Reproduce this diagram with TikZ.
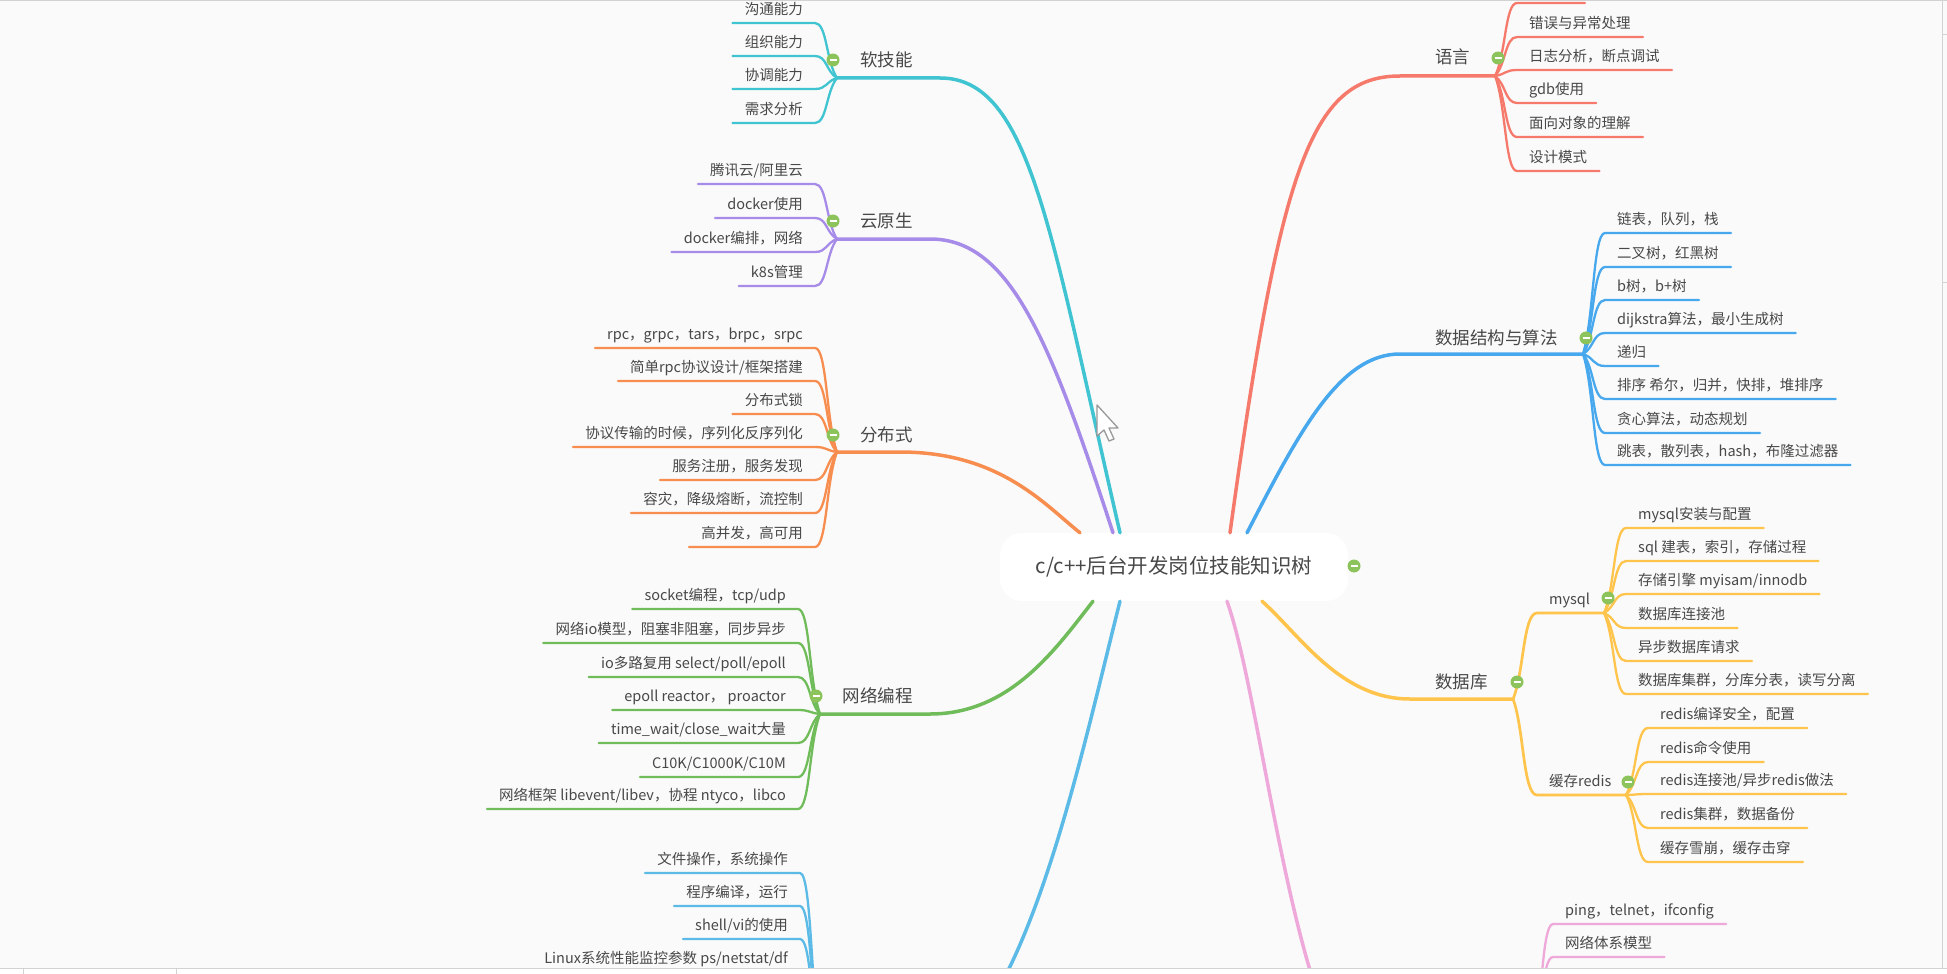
\documentclass[tikz,border=0pt]{standalone}
\usepackage{fontspec}
\newfontfamily\cjk{Noto Sans CJK SC}
\usetikzlibrary{calc}

\definecolor{bgGray}{RGB}{250,250,250}
\definecolor{txtGray}{RGB}{72,72,72}
\definecolor{softCyan}{RGB}{64,196,209}
\definecolor{cloudPurple}{RGB}{167,139,232}
\definecolor{distOrange}{RGB}{247,141,79}
\definecolor{netGreen}{RGB}{112,188,90}
\definecolor{linuxBlue}{RGB}{92,186,230}
\definecolor{langRed}{RGB}{246,122,108}
\definecolor{algoBlue}{RGB}{72,168,238}
\definecolor{dbYellow}{RGB}{255,196,75}
\definecolor{netPink}{RGB}{238,168,218}
\definecolor{toggleGreen}{RGB}{140,195,90}

\tikzset{
  leaf/.style={font=\cjk\fontsize{14.5pt}{17pt}\selectfont, text=txtGray, inner xsep=12pt, inner ysep=6.5pt, text height=12.5pt, text depth=2pt},
  leafL/.style={leaf, anchor=south east},
  leafR/.style={leaf, anchor=south west},
  topic/.style={font=\cjk\fontsize{17.5pt}{20pt}\selectfont, text=txtGray, inner sep=0pt},
  rootBox/.style={rectangle, fill=white, rounded corners=22pt, minimum width=348pt, minimum height=68pt, font=\cjk\fontsize{20.5pt}{24pt}\selectfont, text=txtGray},
  branch/.style={line width=3.5pt, line cap=round},
  twig/.style={line width=2.3pt, line cap=round, line join=round},
  twigL/.style={to path={.. controls ($(\tikztostart)!0.3!(\tikztostart |- \tikztotarget)+(-11,0)$) and ($(\tikztostart |- \tikztotarget)+(-10,0)$) .. (\tikztotarget)}},
  twigR/.style={to path={.. controls ($(\tikztostart)!0.3!(\tikztostart |- \tikztotarget)+(11,0)$) and ($(\tikztostart |- \tikztotarget)+(10,0)$) .. (\tikztotarget)}},
  toggle/.style={circle, fill=toggleGreen, minimum size=13pt, inner sep=0pt,
    path picture={\draw[white, line width=1.3pt] ([xshift=-3.5pt]path picture bounding box.center) -- ([xshift=3.5pt]path picture bounding box.center);}},
  uiLine/.style={draw=gray!35, line width=1pt}
}

\begin{document}
\begin{tikzpicture}[x=1pt, y=-1pt]
	\useasboundingbox (0,0) rectangle (1947,974);
	\fill[bgGray] (0,0) rectangle (1947,974);
	\clip (0,0) rectangle (1947,974);

	\node[rootBox](root) at (1174,567){c/c++后台开发岗位技能知识树};

	\coordinate (softHub) at (837,78);
	\coordinate (cloudHub) at (837,239);
	\coordinate (distHub) at (837,452);
	\coordinate (netHub) at (820,714);
	\coordinate (linuxHub) at (822,1060);
	\coordinate (langHub) at (1495,76);
	\coordinate (algoHub) at (1583,354);
	\coordinate (dbHub) at (1513,699);
	\coordinate (mysqlHub) at (1604,613);
	\coordinate (redisHub) at (1626,795);
	\coordinate (pinkHub) at (1531,1060);

	% main branches out of the root
	\draw[branch, softCyan] ([xshift=-54pt]root.north) .. controls (1050,230) and (1030,78) .. (940,78) -- (softHub);
	\draw[branch, cloudPurple] ([xshift=-61pt]root.north) .. controls (1050,340) and (1010,239) .. (930,239) -- (cloudHub);
	\draw[branch, distOrange] ([xshift=-94pt]root.north) .. controls (1045,505) and (1000,452) .. (900,452) -- (distHub);
	\draw[branch, netGreen] ([xshift=-81pt]root.south) .. controls (1055,650) and (1010,714) .. (930,714) -- (netHub);
	\draw[branch, linuxBlue] ([xshift=-54pt]root.south) .. controls (1080,760) and (1030,1000) .. (940,1060) -- (linuxHub);
	\draw[branch, langRed] ([xshift=56pt]root.north) .. controls (1280,170) and (1310,76) .. (1400,76) -- (langHub);
	\draw[branch, algoBlue] ([xshift=73pt]root.north) .. controls (1300,430) and (1340,354) .. (1400,354) -- (algoHub);
	\draw[branch, dbYellow] ([xshift=88pt]root.south) .. controls (1300,635) and (1340,699) .. (1410,699) -- (dbHub);
	\draw[branch, netPink] ([xshift=53pt]root.south) .. controls (1262,700) and (1290,1000) .. (1360,1080) -- (pinkHub);

	% topic labels
	\node[topic, anchor=east](softLabel) at (913,60){软技能};
	\node[topic, anchor=east](cloudLabel) at (913,221){云原生};
	\node[topic, anchor=east](distLabel) at (913,435){分布式};
	\node[topic, anchor=east](netLabel) at (913,696){网络编程};
	\node[topic, anchor=west](langLabel) at (1435,57){语言};
	\node[topic, anchor=west](algoLabel) at (1435,338){数据结构与算法};
	\node[topic, anchor=west](dbLabel) at (1435,682){数据库};

	% draw soft skill leaves
	\node[leafL](soft1) at (815,23){沟通能力};
	\node[leafL](soft2) at (815,56){组织能力};
	\node[leafL](soft3) at (815,89){协调能力};
	\node[leafL](soft4) at (815,123){需求分析};
	\draw[twig, softCyan] (softHub) to[twigL] (soft1.south east) -- (soft1.south west);
	\draw[twig, softCyan] (softHub) to[twigL] (soft2.south east) -- (soft2.south west);
	\draw[twig, softCyan] (softHub) to[twigL] (soft3.south east) -- (soft3.south west);
	\draw[twig, softCyan] (softHub) to[twigL] (soft4.south east) -- (soft4.south west);

	% draw cloud leaves
	\node[leafL](cloud1) at (815,184){腾讯云/阿里云};
	\node[leafL](cloud2) at (815,218){docker使用};
	\node[leafL](cloud3) at (815,252){docker编排，网络};
	\node[leafL](cloud4) at (815,286){k8s管理};
	\draw[twig, cloudPurple] (cloudHub) to[twigL] (cloud1.south east) -- (cloud1.south west);
	\draw[twig, cloudPurple] (cloudHub) to[twigL] (cloud2.south east) -- (cloud2.south west);
	\draw[twig, cloudPurple] (cloudHub) to[twigL] (cloud3.south east) -- (cloud3.south west);
	\draw[twig, cloudPurple] (cloudHub) to[twigL] (cloud4.south east) -- (cloud4.south west);

	% draw distributed leaves
	\node[leafL](dist1) at (815,348){rpc，grpc，tars，brpc，srpc};
	\node[leafL](dist2) at (815,381){简单rpc协议设计/框架搭建};
	\node[leafL](dist3) at (815,414){分布式锁};
	\node[leafL](dist4) at (815,447){协议传输的时候，序列化反序列化};
	\node[leafL](dist5) at (815,480){服务注册，服务发现};
	\node[leafL](dist6) at (815,513){容灾，降级熔断，流控制};
	\node[leafL](dist7) at (815,547){高并发，高可用};
	\draw[twig, distOrange] (distHub) to[twigL] (dist1.south east) -- (dist1.south west);
	\draw[twig, distOrange] (distHub) to[twigL] (dist2.south east) -- (dist2.south west);
	\draw[twig, distOrange] (distHub) to[twigL] (dist3.south east) -- (dist3.south west);
	\draw[twig, distOrange] (distHub) to[twigL] (dist4.south east) -- (dist4.south west);
	\draw[twig, distOrange] (distHub) to[twigL] (dist5.south east) -- (dist5.south west);
	\draw[twig, distOrange] (distHub) to[twigL] (dist6.south east) -- (dist6.south west);
	\draw[twig, distOrange] (distHub) to[twigL] (dist7.south east) -- (dist7.south west);

	% draw network programming leaves
	\node[leafL](net1) at (798,609){socket编程，tcp/udp};
	\node[leafL](net2) at (798,643){网络io模型，阻塞非阻塞，同步异步};
	\node[leafL](net3) at (798,677){io多路复用 select/poll/epoll};
	\node[leafL](net4) at (798,710){epoll reactor， proactor};
	\node[leafL](net5) at (798,743){time\_wait/close\_wait大量};
	\node[leafL](net6) at (798,777){C10K/C1000K/C10M};
	\node[leafL](net7) at (798,809){网络框架 libevent/libev，协程 ntyco，libco};
	\draw[twig, netGreen] (netHub) to[twigL] (net1.south east) -- (net1.south west);
	\draw[twig, netGreen] (netHub) to[twigL] (net2.south east) -- (net2.south west);
	\draw[twig, netGreen] (netHub) to[twigL] (net3.south east) -- (net3.south west);
	\draw[twig, netGreen] (netHub) to[twigL] (net4.south east) -- (net4.south west);
	\draw[twig, netGreen] (netHub) to[twigL] (net5.south east) -- (net5.south west);
	\draw[twig, netGreen] (netHub) to[twigL] (net6.south east) -- (net6.south west);
	\draw[twig, netGreen] (netHub) to[twigL] (net7.south east) -- (net7.south west);

	% draw linux leaves
	\node[leafL](linux1) at (800,873){文件操作，系统操作};
	\node[leafL](linux2) at (800,906){程序编译，运行};
	\node[leafL](linux3) at (800,939){shell/vi的使用};
	\node[leafL](linux4) at (800,972){Linux系统性能监控参数 ps/netstat/df};
	\draw[twig, linuxBlue] (linuxHub) to[twigL] (linux1.south east) -- (linux1.south west);
	\draw[twig, linuxBlue] (linuxHub) to[twigL] (linux2.south east) -- (linux2.south west);
	\draw[twig, linuxBlue] (linuxHub) to[twigL] (linux3.south east) -- (linux3.south west);
	\draw[twig, linuxBlue] (linuxHub) to[twigL] (linux4.south east) -- (linux4.south west);

	% draw language leaves
	\coordinate (lang0) at (1517,3);
	\coordinate (lang0End) at (1585,3);
	\node[leafR](lang1) at (1517,37){错误与异常处理};
	\node[leafR](lang2) at (1517,70){日志分析，断点调试};
	\node[leafR](lang3) at (1517,103){gdb使用};
	\node[leafR](lang4) at (1517,137){面向对象的理解};
	\node[leafR](lang5) at (1517,171){设计模式};
	\draw[twig, langRed] (langHub) to[twigR] (lang0) -- (lang0End);
	\draw[twig, langRed] (langHub) to[twigR] (lang1.south west) -- (lang1.south east);
	\draw[twig, langRed] (langHub) to[twigR] (lang2.south west) -- (lang2.south east);
	\draw[twig, langRed] (langHub) to[twigR] (lang3.south west) -- (lang3.south east);
	\draw[twig, langRed] (langHub) to[twigR] (lang4.south west) -- (lang4.south east);
	\draw[twig, langRed] (langHub) to[twigR] (lang5.south west) -- (lang5.south east);

	% draw algorithm leaves
	\node[leafR](algo1) at (1605,233){链表，队列，栈};
	\node[leafR](algo2) at (1605,267){二叉树，红黑树};
	\node[leafR](algo3) at (1605,300){b树，b+树};
	\node[leafR](algo4) at (1605,333){dijkstra算法，最小生成树};
	\node[leafR](algo5) at (1605,366){递归};
	\node[leafR](algo6) at (1605,399){排序 希尔，归并，快排，堆排序};
	\node[leafR](algo7) at (1605,433){贪心算法，动态规划};
	\node[leafR](algo8) at (1605,465){跳表，散列表，hash，布隆过滤器};
	\draw[twig, algoBlue] (algoHub) to[twigR] (algo1.south west) -- (algo1.south east);
	\draw[twig, algoBlue] (algoHub) to[twigR] (algo2.south west) -- (algo2.south east);
	\draw[twig, algoBlue] (algoHub) to[twigR] (algo3.south west) -- (algo3.south east);
	\draw[twig, algoBlue] (algoHub) to[twigR] (algo4.south west) -- (algo4.south east);
	\draw[twig, algoBlue] (algoHub) to[twigR] (algo5.south west) -- (algo5.south east);
	\draw[twig, algoBlue] (algoHub) to[twigR] (algo6.south west) -- (algo6.south east);
	\draw[twig, algoBlue] (algoHub) to[twigR] (algo7.south west) -- (algo7.south east);
	\draw[twig, algoBlue] (algoHub) to[twigR] (algo8.south west) -- (algo8.south east);

	% draw database sub branches
	\node[leafR](mysql) at (1537,613){mysql};
	\node[leafR](redis) at (1537,795){缓存redis};
	\draw[twig, dbYellow, line width=2.7pt] (dbHub) to[twigR] (mysql.south west) -- (mysqlHub);
	\draw[twig, dbYellow, line width=2.7pt] (dbHub) to[twigR] (redis.south west) -- (redisHub);

	\node[leafR](mysql1) at (1626,528){mysql安装与配置};
	\node[leafR](mysql2) at (1626,561){sql 建表，索引，存储过程};
	\node[leafR](mysql3) at (1626,594){存储引擎 myisam/innodb};
	\node[leafR](mysql4) at (1626,628){数据库连接池};
	\node[leafR](mysql5) at (1626,661){异步数据库请求};
	\node[leafR](mysql6) at (1626,694){数据库集群，分库分表，读写分离};
	\draw[twig, dbYellow] (mysqlHub) to[twigR] (mysql1.south west) -- (mysql1.south east);
	\draw[twig, dbYellow] (mysqlHub) to[twigR] (mysql2.south west) -- (mysql2.south east);
	\draw[twig, dbYellow] (mysqlHub) to[twigR] (mysql3.south west) -- (mysql3.south east);
	\draw[twig, dbYellow] (mysqlHub) to[twigR] (mysql4.south west) -- (mysql4.south east);
	\draw[twig, dbYellow] (mysqlHub) to[twigR] (mysql5.south west) -- (mysql5.south east);
	\draw[twig, dbYellow] (mysqlHub) to[twigR] (mysql6.south west) -- (mysql6.south east);

	\node[leafR](redis1) at (1648,728){redis编译安全，配置};
	\node[leafR](redis2) at (1648,762){redis命令使用};
	\node[leafR](redis3) at (1648,794){redis连接池/异步redis做法};
	\node[leafR](redis4) at (1648,828){redis集群，数据备份};
	\node[leafR](redis5) at (1648,862){缓存雪崩，缓存击穿};
	\draw[twig, dbYellow] (redisHub) to[twigR] (redis1.south west) -- (redis1.south east);
	\draw[twig, dbYellow] (redisHub) to[twigR] (redis2.south west) -- (redis2.south east);
	\draw[twig, dbYellow] (redisHub) to[twigR] (redis3.south west) -- (redis3.south east);
	\draw[twig, dbYellow] (redisHub) to[twigR] (redis4.south west) -- (redis4.south east);
	\draw[twig, dbYellow] (redisHub) to[twigR] (redis5.south west) -- (redis5.south east);

	% draw network basics leaves
	\node[leafR](pink1) at (1553,924){ping，telnet，ifconfig};
	\node[leafR](pink2) at (1553,957){网络体系模型};
	\draw[twig, netPink] (pinkHub) to[twigR] (pink1.south west) -- (pink1.south east);
	\draw[twig, netPink] (pinkHub) to[twigR] (pink2.south west) -- (pink2.south east);

	% collapse toggles
	\node[toggle](softToggle) at (833,60){};
	\node[toggle](cloudToggle) at (833,221){};
	\node[toggle](distToggle) at (833,435){};
	\node[toggle](netToggle) at (816,696){};
	\node[toggle](langToggle) at (1498,58){};
	\node[toggle](algoToggle) at (1586,338){};
	\node[toggle](dbToggle) at (1517,682){};
	\node[toggle](mysqlToggle) at (1608,598){};
	\node[toggle](redisToggle) at (1628,782){};
	\node[toggle](rootToggle) at (1354,566){};

	% mouse pointer
	\draw[gray!80, fill=white, line width=1.3pt, line join=round] (1097,405) -- ++(0,31) -- ++(7,-6) -- ++(5,11) -- ++(5,-2) -- ++(-5,-11) -- ++(9,0) -- cycle;

	% window edges
	\draw[uiLine] (0,1) -- (1947,1);
	\draw[uiLine] (1942,0) -- (1942,968);
	\draw[uiLine] (1942,35) -- (1947,35);
	\draw[uiLine] (1942,282) -- (1947,282);
	\fill[white] (0,968) rectangle (1947,974);
	\draw[uiLine] (0,968) -- (1947,968);
	\draw[uiLine] (23,968) -- (23,974);
	\draw[uiLine] (176,968) -- (176,974);
\end{tikzpicture}
\end{document}
